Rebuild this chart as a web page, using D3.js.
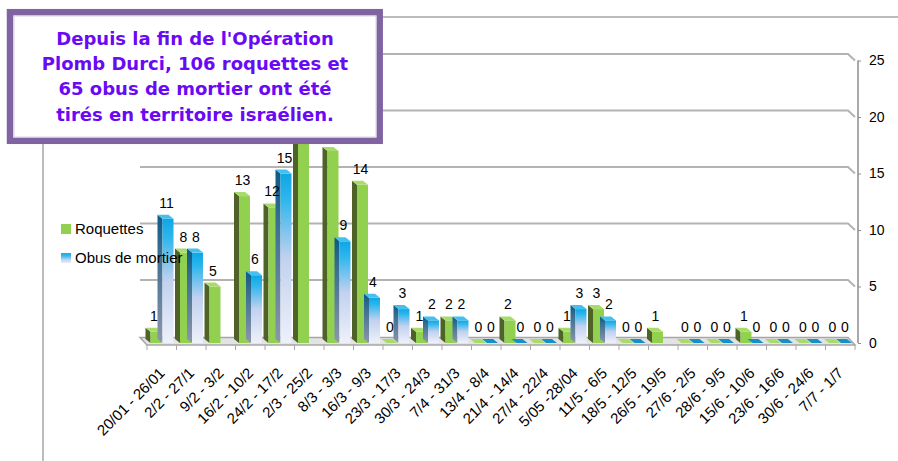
<!DOCTYPE html>
<html>
<head>
<meta charset="utf-8">
<script src="https://cdn.jsdelivr.net/npm/d3@7/dist/d3.min.js"></script>
<style>
html,body{margin:0;padding:0;background:#fff;}
svg{display:block;}
</style>
</head>
<body>
<svg id="chart" width="898" height="461"></svg>
<script>
const categories = ["20/01 - 26/01","2/2 - 27/1","9/2 - 3/2","16/2 - 10/2","24/2 - 17/2","2/3 - 25/2","8/3 - 3/3","16/3 - 9/3","23/3 - 17/3","30/3 - 24/3","7/4 - 31/3","13/4 - 8/4","21/4 - 14/4","27/4 - 22/4","5/05 -28/04","11/5 - 6/5","18/5 - 12/5","26/5 - 19/5","27/6 - 2/5","28/6 - 9/5","15/6 - 10/6","23/6 - 16/6","30/6 - 24/6","7/7 - 1/7"];
const roquettes = [1,8,5,13,12,25,17,14,0,1,2,0,2,0,1,3,0,1,0,0,1,0,0,0];
const obus = [11,8,null,6,15,null,9,4,3,2,2,0,0,0,3,2,0,null,0,0,0,0,0,0];
const yTicks = [0,5,10,15,20,25];
const seriesNames = ["Roquettes","Obus de mortier"];
const titleLines = ["Depuis la fin de l'Opération","Plomb Durci, 106 roquettes et","65 obus de mortier ont été","tirés en territoire israélien."];

const svg = d3.select("#chart");
const defs = svg.append("defs");

function grad(id, stops){
  const g = defs.append("linearGradient").attr("id", id).attr("x1",0).attr("y1",0).attr("x2",0).attr("y2",1);
  stops.forEach(s => g.append("stop").attr("offset", s[0]).attr("stop-color", s[1]));
}
grad("blueFront", [[0,"#0ea6e5"],[0.15,"#2db6ec"],[0.5,"#c2d1ef"],[1,"#eef1fa"]]);
grad("blueSide", [[0,"#0a5a86"],[0.3,"#3a6f92"],[1,"#8d96aa"]]);
grad("blueLegend", [[0,"#12aae7"],[0.3,"#39b9ec"],[0.7,"#c8d6f0"],[1,"#e8edf9"]]);

const x = d3.scaleBand().domain(categories).range([147, 855]).padding(0);
const y = d3.scaleLinear().domain([0, 25]).range([343, 60.5]);
const bw = x.bandwidth();
const dx = -5, dy = -4;   // 3D depth offset
const wallDx = -7, wallDy = -6.5;

// title box geometry (drawn last, on top)
const box = {x: 10, y: 12.2, w: 369.7, h: 128.6};

// frame
svg.append("line").attr("x1",43).attr("y1",17).attr("x2",898).attr("y2",17).attr("stroke","#a6a6a6").attr("stroke-width",1.5);
svg.append("line").attr("x1",43).attr("y1",17).attr("x2",43).attr("y2",461).attr("stroke","#a6a6a6").attr("stroke-width",1.5);

// gridlines on back wall
const xr = x.range();
const grid = svg.append("g");
yTicks.filter(v => v > 0).forEach(v => {
  const yy = y(v);
  grid.append("path")
    .attr("d", `M${xr[0] + wallDx},${yy + wallDy}L${xr[1] + wallDx},${yy + wallDy}L${xr[1]},${yy}`)
    .attr("fill","none").attr("stroke","#b3b3b3").attr("stroke-width",2);
});

// floor
const y0 = y(0);
svg.append("path")
  .attr("d", `M${xr[0] + wallDx},${y0 + wallDy + 1}L${xr[1] + wallDx},${y0 + wallDy + 1}L${xr[1]},${y0 + 2}L${xr[0]},${y0 + 2}Z`)
  .attr("fill","#e3e3e3").attr("stroke","#a6a6a6").attr("stroke-width",1.5);

// category ticks
categories.forEach(c => {
  const xx = x(c);
  svg.append("line").attr("x1",xx).attr("x2",xx).attr("y1",y0+2).attr("y2",y0+7).attr("stroke","#a6a6a6").attr("stroke-width",1);
});
svg.append("line").attr("x1",xr[1]).attr("x2",xr[1]).attr("y1",y0+2).attr("y2",y0+7).attr("stroke","#a6a6a6").attr("stroke-width",1);

// right axis
const axisG = svg.append("g").attr("transform", `translate(${xr[1] + 3},0)`);
const axis = d3.axisRight(y).tickValues(yTicks).tickSize(3).tickPadding(8);
axisG.call(axis);
axisG.select(".domain").attr("stroke","#8c8c8c").attr("stroke-width",1.5).attr("d", `M0,${y(25)}V${y0}`);
axisG.selectAll(".tick line").attr("stroke","#8c8c8c");
axisG.selectAll(".tick text").attr("font-family","'Liberation Sans', Arial, sans-serif").attr("font-size",14).attr("fill","#000");

// bars
const bars = svg.append("g");
function bar3d(x0, w, v, front, side, top){
  const yt = y(v);
  const g = bars.append("g");
  if (v > 0) {
    g.append("path").attr("d", `M${x0},${yt}L${x0+dx},${yt+dy}L${x0+dx},${y0+dy}L${x0},${y0}Z`).attr("fill", side);
    g.append("rect").attr("x", x0).attr("y", yt).attr("width", w).attr("height", y0 - yt).attr("fill", front);
  }
  g.append("path").attr("d", `M${x0},${yt}L${x0+dx},${yt+dy}L${x0+w+dx},${yt+dy}L${x0+w},${yt}Z`).attr("fill", top);
}
const labels = svg.append("g").attr("font-family","'Liberation Sans', Arial, sans-serif").attr("font-size",14).attr("fill","#000").attr("text-anchor","middle");
function hiddenByBox(lx, ly){
  return lx < box.x + box.w + 4 && ly < box.y + box.h + 6;
}
categories.forEach((c, i) => {
  const x0 = x(c);
  const r = roquettes[i], o = obus[i];
  if (r !== null) bar3d(x0 + 3.5, 11, r, "#92d050", "#4f6228", "#a8dc6a");
  if (o !== null) bar3d(x0 + 15.5, 11, o, "url(#blueFront)", "url(#blueSide)", o > 0 ? "#45c0ee" : "#1590c8");
  if (r !== null) {
    const lx = x0 + 7, ly = y(r) - 11;
    if (!hiddenByBox(lx, ly)) labels.append("text").attr("x", lx).attr("y", ly).text(r);
  }
  if (o !== null) {
    const lx = x0 + 19.5, ly = y(o) - 11;
    if (!hiddenByBox(lx, ly)) labels.append("text").attr("x", lx).attr("y", ly).text(o);
  }
});

// x labels
const xl = svg.append("g").attr("font-family","'Liberation Sans', Arial, sans-serif").attr("font-size",15).attr("fill","#000");
categories.forEach(c => {
  const cx = x(c) + bw / 2;
  xl.append("text").attr("text-anchor","end")
    .attr("transform", `translate(${cx + 4},${y0 + 31}) rotate(-45)`)
    .text(c);
});

// legend
const lg = svg.append("g").attr("font-family","'Liberation Sans', Arial, sans-serif").attr("font-size",15).attr("fill","#000");
lg.append("rect").attr("x",61).attr("y",224).attr("width",10).attr("height",10).attr("fill","#92d050");
lg.append("text").attr("x",75).attr("y",234).text(seriesNames[0]);
lg.append("rect").attr("x",61).attr("y",253).attr("width",10).attr("height",10).attr("fill","url(#blueLegend)");
lg.append("text").attr("x",75).attr("y",263).text(seriesNames[1]);

// title box
const tb = svg.append("g");
tb.append("rect").attr("x",box.x).attr("y",box.y).attr("width",box.w).attr("height",box.h).attr("fill","#fff").attr("stroke","#8064a2").attr("stroke-width",6.5);
tb.append("rect").attr("x",14).attr("y",16).attr("width",362).attr("height",121).attr("fill","none").attr("stroke","#d8d0e8").attr("stroke-width",1);
const tt = tb.append("text").attr("font-family","'DejaVu Sans', Verdana, sans-serif").attr("font-weight","bold").attr("font-size",18).attr("fill","#6a0af5").attr("text-anchor","middle");
titleLines.forEach((t, i) => {
  tt.append("tspan").attr("x",195).attr("y",45 + i * 25.2).text(t);
});
</script>
</body>
</html>
